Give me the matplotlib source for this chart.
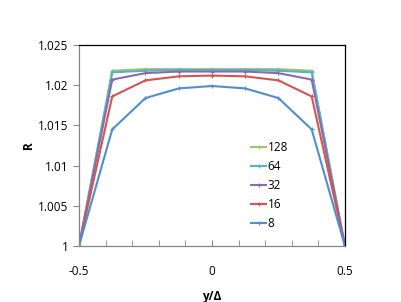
import matplotlib
matplotlib.use("Agg")
import matplotlib.pyplot as plt
import numpy as np

x = [-0.5, -0.375, -0.25, -0.125, 0, 0.125, 0.25, 0.375, 0.5]
r8 = [1.0, 1.0145, 1.0184, 1.0196, 1.0199, 1.0196, 1.0184, 1.0145, 1.0]
r16 = [1.0, 1.0186, 1.0206, 1.0211, 1.0212, 1.0211, 1.0206, 1.0186, 1.0]
r32 = [1.0, 1.0207, 1.0215, 1.0217, 1.0217, 1.0217, 1.0215, 1.0207, 1.0]
r64 = [1.0, 1.0216, 1.0218, 1.0219, 1.0219, 1.0219, 1.0218, 1.0216, 1.0]
r128 = [1.0, 1.0218, 1.0220, 1.0220, 1.0220, 1.0220, 1.0220, 1.0218, 1.0]
labels = ["128", "64", "32", "16", "8"]
colors = ["#A2C464", "#4FB5CF", "#8B6BB0", "#D55450", "#4C8FD3"]

plt.rcParams['font.family'] = ['Open Sans', 'DejaVu Sans']
fig = plt.figure(figsize=(4.02, 3.02), dpi=100)
ax = fig.add_axes([0.1965, 0.1854, 0.6615, 0.6656])

for ys, lab, c in zip([r128, r64, r32, r16, r8], labels, colors):
    ax.plot(x, ys, color=c, lw=1.5, marker='+', ms=3.5, mew=0.8, label=lab)

ax.set_xlim(-0.5, 0.5)
ax.set_ylim(1.0, 1.025)
ax.set_xticks([-0.5, 0, 0.5])
ax.set_xticklabels(["-0.5", "0", "0.5"])
ax.set_xticks(np.arange(-0.4, 0.45, 0.1), minor=True)
ax.set_yticks([1.0, 1.005, 1.01, 1.015, 1.02, 1.025])
ax.set_yticklabels(["1", "1.005", "1.01", "1.015", "1.02", "1.025"])
ax.tick_params(axis='both', which='major', labelsize=8.5, length=4, color='#868686', direction='in')
ax.tick_params(axis='x', which='minor', length=4, color='#868686', direction='in')
ax.tick_params(axis='y', which='major', direction='out')
ax.tick_params(axis='x', which='major', pad=14)
for s in ['left', 'bottom']:
    ax.spines[s].set_color('#868686')
for s in ['top', 'right']:
    ax.spines[s].set_color('black')
for s in ax.spines.values():
    s.set_linewidth(0.9)
ax.set_xlabel("y/Δ", fontsize=8.5, fontweight='bold', labelpad=8)
ax.set_ylabel("R", fontsize=8.5, fontweight='bold', labelpad=2)

ax.legend(loc='upper left', bbox_to_anchor=(0.625, 0.55), frameon=False, fontsize=8.5,
          handlelength=1.3, handletextpad=0.1, labelspacing=0.5, borderpad=0)

fig.savefig("out.png", dpi=100)
